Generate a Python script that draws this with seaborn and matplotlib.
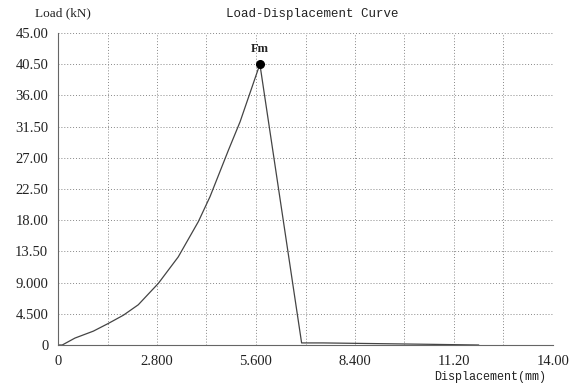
import numpy as np
import pandas as pd
import seaborn as sns
import matplotlib.pyplot as plt

# curve
disp = [0, 0.12, 0.48, 1.0, 1.42, 1.85, 2.27, 2.84, 3.4, 3.97, 4.3, 4.82, 5.15, 5.71,
        6.89, 7.5, 9.0, 10.5, 11.9]
load = [0, 0.0, 1.0, 2.0, 3.1, 4.3, 5.8, 8.9, 12.7, 17.8, 21.4, 28.1, 32.2, 40.5,
        0.3, 0.3, 0.2, 0.1, 0.0]
peak_x = 5.71
peak_y = 40.5

y_ticks = [0, 4.5, 9, 13.5, 18, 22.5, 27, 31.5, 36, 40.5, 45]
y_labels = ["0", "4.500", "9.000", "13.50", "18.00", "22.50", "27.00", "31.50",
            "36.00", "40.50", "45.00"]
x_ticks = [0, 2.8, 5.6, 8.4, 11.2, 14.0]
x_labels = ["0", "2.800", "5.600", "8.400", "11.20", "14.00"]

df = pd.DataFrame({"disp": disp, "load": load})

sns.set_style("white")
plt.rcParams['font.family'] = ['Liberation Serif', 'DejaVu Serif']

fig = plt.figure(figsize=[5.73, 3.85], dpi=100)
ax = fig.add_axes([58/573, 40/385, 495/573, 312/385])

sns.lineplot(data=df, x="disp", y="load", color="#444444", linewidth=0.9, ax=ax,
             sort=False)
ax.plot([peak_x], [peak_y], "o", color="black", markersize=5.5)
ax.text(peak_x, peak_y + 1.3, "Fm", ha="center", va="bottom", fontsize=9,
        fontweight="bold", color="#222222")

ax.set_xlim(0, 14)
ax.set_ylim(0, 45)
ax.set_xticks(np.arange(0, 14.01, 1.4), minor=True)
ax.set_xticks(x_ticks)
ax.set_xticklabels(x_labels, fontsize=10.5)
ax.set_yticks(y_ticks)
ax.set_yticklabels(y_labels, fontsize=10.5)
ax.tick_params(axis="both", which="both", direction="out", length=3, width=0.8,
               color="#666666", labelcolor="#222222", pad=4)
ax.grid(True, which="both", linestyle=(0, (1, 2)), color="#888888", linewidth=0.7)

for s in ["top", "right"]:
    ax.spines[s].set_visible(False)
for s in ["left", "bottom"]:
    ax.spines[s].set_color("#666666")
    ax.spines[s].set_linewidth(0.8)

ax.set_xlabel("")
ax.set_ylabel("")
fig.text(35/573, 1 - 13/385, "Load (kN)", fontsize=9.5, va="center", color="#222222")
fig.text(312/573, 1 - 14/385, "Load-Displacement Curve", fontsize=9, ha="center",
         va="center", family=["Liberation Mono", "DejaVu Sans Mono"], color="#222222")
fig.text(490/573, 1 - 377/385, "Displacement(mm)", fontsize=8.5, ha="center",
         va="center", family=["Liberation Mono", "DejaVu Sans Mono"], color="#222222")

plt.savefig("out.png", dpi=100)
